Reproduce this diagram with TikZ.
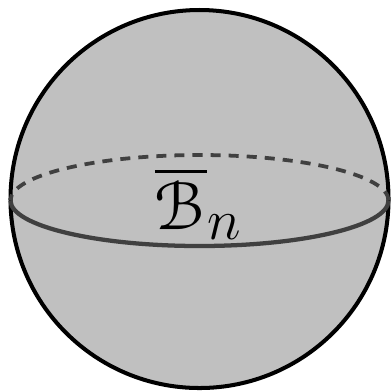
\documentclass[tikz,border=0pt]{standalone}
\usepackage{amsmath, amssymb}
\usepackage[mathcal]{eucal}
\usepackage{xcolor}
\usepackage{tikz}
\usetikzlibrary{positioning, calc}
\definecolor{ballgray}{RGB}{192, 192, 192}
\definecolor{ringgray}{RGB}{64, 64, 64}

\begin{document}
\begin{tikzpicture}[x=1.4cm, y=1.4cm]
\useasboundingbox (0,0) rectangle (3.92,-3.91);
\coordinate (c) at (1.995,-1.99);
\coordinate (eq) at (1.995,-2.005);
\draw[fill=ballgray, line width=1.6pt] (c) circle (1.89);
\draw[ringgray, line width=1.5pt, dashed, dash pattern=on 4pt off 3.2pt] ($(eq)+(1.89,0)$) arc (0:180:1.89 and 0.455);
\draw[ringgray, line width=1.7pt] ($(eq)+(-1.89,0)$) arc (180:360:1.89 and 0.455);
\node[anchor=base, scale=1.1] (label) at (1.985,-2.29) {\Huge $\overline{\mathcal{B}}_n$};
\end{tikzpicture}
\end{document}
